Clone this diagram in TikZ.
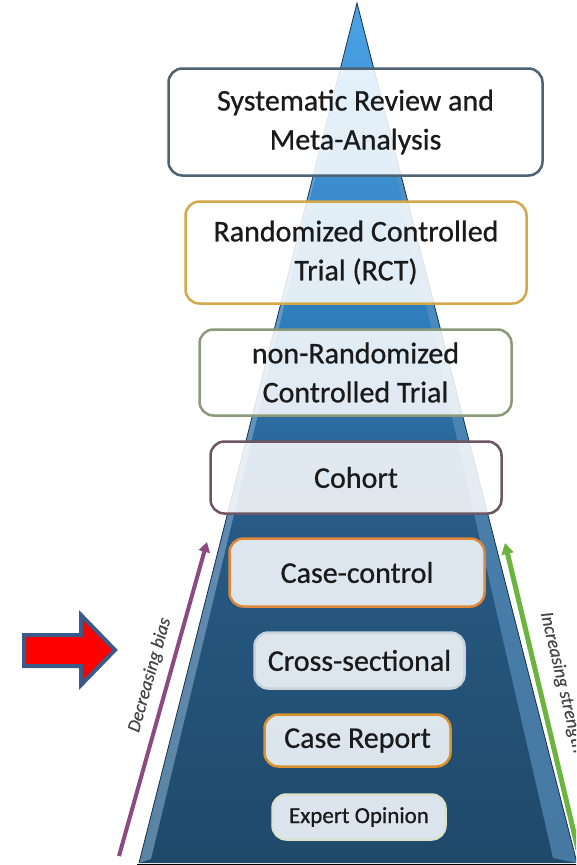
\documentclass[tikz,border=0pt]{standalone}
\usepackage{fontspec}
\setmainfont{Carlito}
\newfontfamily\boxfont[FakeBold=0.7]{Carlito}
\newfontfamily\sidefont[FakeBold=0.4]{Carlito}
\usetikzlibrary{arrows.meta}
\definecolor{ptop}{HTML}{4BA3E6}
\definecolor{pmid}{HTML}{2F7DBB}
\definecolor{pdark}{HTML}{285A85}
\definecolor{pbot}{HTML}{1F4969}
\definecolor{pedge}{HTML}{16324A}
\definecolor{bevR}{HTML}{5B92C0}
\definecolor{bevL}{HTML}{8FB4D4}
\definecolor{baseline}{HTML}{A3B5C6}
\definecolor{txt}{HTML}{1A1A1A}
\definecolor{sidetxt}{HTML}{454545}
\definecolor{cSys}{HTML}{4D6272}
\definecolor{cRct}{HTML}{D2A84A}
\definecolor{cNonr}{HTML}{8A9A7A}
\definecolor{cCoh}{HTML}{6E5563}
\definecolor{cCc}{HTML}{E0883A}
\definecolor{cCross}{HTML}{C9D3DC}
\definecolor{cRep}{HTML}{D8922E}
\definecolor{cExp}{HTML}{DCE3CC}
\definecolor{lowfill}{HTML}{E7EEF4}
\definecolor{arrPurple}{HTML}{8C4A82}
\definecolor{arrGreen}{HTML}{6DB33F}
\definecolor{redfill}{HTML}{FF0000}
\definecolor{redborder}{HTML}{3B5A8A}
\pgfdeclareverticalshading{pyrshade}{100bp}{color(0bp)=(pbot); color(25bp)=(pbot); color(44.6bp)=(pdark); color(56.6bp)=(pmid); color(75bp)=(ptop); color(100bp)=(ptop)}
\begin{document}
\begin{tikzpicture}[x=1pt,y=-1pt,
  levelbox/.style={draw, rounded corners=14pt, line width=2.5pt, inner sep=0pt,
    align=center, text=txt, font=\boxfont\fontsize{30}{39}\selectfont},
  topbox/.style={levelbox, fill=white, fill opacity=0.86, text opacity=1},
  lowbox/.style={levelbox, fill=lowfill, fill opacity=0.95, text opacity=1},
  sidelabel/.style={font=\sidefont\itshape\fontsize{18.5}{22}\selectfont, text=sidetxt, inner sep=0pt},
  purparrow/.style={draw=arrPurple, line width=4pt, -{Triangle[length=10pt,width=11pt]}},
  greenarrow/.style={draw=arrGreen, line width=5pt, -{Triangle[length=11pt,width=12pt]}}
]
\useasboundingbox (0,0) rectangle (576,865);
\clip (0,0) rectangle (576,865);
\fill[white] (0,0) rectangle (576,865);

% pyramid
\coordinate (apex) at (357,3);
\coordinate (bl) at (139,863);
\coordinate (br) at (577,863);
\shade[shading=pyrshade] (apex) -- (br) -- (bl) -- cycle;
\fill[bevR, opacity=0.65] (apex) -- (br) -- (553,858) -- cycle;
\fill[bevL, opacity=0.55] (apex) -- (bl) -- (151,859) -- cycle;
\draw[pedge, line width=0.8pt] (bl) -- (apex) -- (br);
\draw[baseline, line width=1.5pt] (137,864.5) -- (578,864.5);

% boxes
\node[topbox, draw=cSys, minimum width=374pt, minimum height=107pt] (sys) at (355.5,122) {Systematic Review and\\Meta-Analysis};
\node[topbox, draw=cRct, minimum width=341pt, minimum height=102pt] (rct) at (356,252.5) {Randomized Controlled\\Trial (RCT)};
\node[topbox, draw=cNonr, minimum width=312pt, minimum height=86pt] (nonr) at (355.5,372.5) {non-Randomized\\Controlled Trial};
\node[topbox, draw=cCoh, minimum width=291pt, minimum height=72pt] (coh) at (356,477.5) {Cohort};
\node[lowbox, draw=cCc, minimum width=255pt, minimum height=68pt] (cc) at (357,572.5) {Case-control};
\node[lowbox, draw=cCross, minimum width=210pt, minimum height=56pt] (cross) at (359.5,660.5) {Cross-sectional};
\node[lowbox, draw=cRep, minimum width=186pt, minimum height=52pt] (rep) at (357.5,740.5) {Case Report};
\node[lowbox, draw=cExp, minimum width=173pt, minimum height=45pt, font=\boxfont\fontsize{23}{28}\selectfont] (exp) at (359,817) {Expert Opinion};

% side arrows
\coordinate (pb) at (119,856);
\coordinate (pt) at (207,542);
\draw[purparrow] (pb) -- (pt) node[pos=0.56, sloped, above=9pt, sidelabel] (dec) {Decreasing bias};
\coordinate (gb) at (580,858);
\coordinate (gt) at (505,543);
\draw[greenarrow] (gb) -- (gt);
\path (gt) -- (gb) node[pos=0.46, sloped, above=15pt, sidelabel] (inc) {Increasing strength};

% red block arrow
\draw[fill=redfill, draw=redborder, line width=4pt, miter limit=10]
  (24,635) -- (81,635) -- (81,615) -- (115,650) -- (81,685) -- (81,666) -- (24,666) -- cycle;
\end{tikzpicture}
\end{document}
